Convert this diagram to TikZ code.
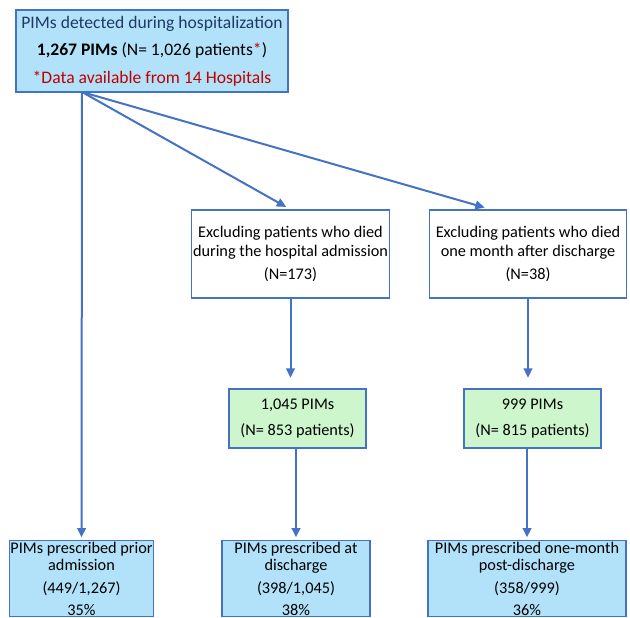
\documentclass[tikz,border=0pt]{standalone}
\usepackage{fontspec}
\setmainfont{Carlito}
\usepackage{tikz}
\usetikzlibrary{arrows.meta,calc}
\definecolor{boxblue}{RGB}{68,114,196}
\definecolor{skyfill}{RGB}{178,226,250}
\definecolor{mintfill}{RGB}{206,246,204}
\definecolor{titlenavy}{RGB}{31,56,100}
\definecolor{notered}{RGB}{192,0,0}
\tikzset{
  topbox/.style={draw=boxblue, line width=1pt, fill=skyfill, align=center,
    font=\fontsize{13.2}{20.5}\selectfont, inner sep=1pt,
    minimum width=204pt, minimum height=61.5pt},
  exclbox/.style={draw=boxblue, line width=0.9pt, fill=white, align=center,
    font=\fontsize{12.2}{14}\selectfont, inner sep=1pt,
    minimum width=147.5pt, minimum height=66pt},
  countbox/.style={draw=boxblue, line width=0.9pt, fill=mintfill, align=center,
    font=\fontsize{12.2}{19.5}\selectfont, inner sep=1pt,
    minimum width=102.75pt, minimum height=44.25pt},
  outbox/.style={draw=boxblue, line width=1pt, fill=skyfill, align=center,
    font=\fontsize{12.2}{13}\selectfont, anchor=north, inner xsep=0.5pt,
    inner ysep=1pt},
  flow/.style={draw=boxblue, line width=1.5pt,
    -{Triangle[length=7pt,width=6.5pt]}}
}

\begin{document}
\begin{tikzpicture}[x=0.75pt,y=-0.75pt]
  \useasboundingbox (0,0) rectangle (630,617);
  \clip (0,0) rectangle (630,617);

  % Hospitalization cohort.
  \node[topbox] (top) at (152,51)
    {\textcolor{titlenavy}{PIMs detected during hospitalization}\\
     \textbf{1,267 PIMs} (N= 1,026 patients\textcolor{notered}{*})\\
     \textcolor{notered}{*Data available from 14 Hospitals}};
  \coordinate (fork) at (82,92);

  % Exclusions.
  \node[exclbox] (excl1) at (290.5,254)
    {Excluding patients who died\\during the hospital admission\\[3.5pt](N=173)};
  \node[exclbox] (excl2) at (528,254)
    {Excluding patients who died\\one month after discharge\\[3.5pt](N=38)};
  \coordinate (excl2in) at ($(excl2.north west)+(62,0)$);

  % Remaining PIMs.
  \node[countbox] (count1) at (297.5,418.5) {1,045 PIMs\\(N= 853 patients)};
  \node[countbox] (count2) at (532.5,418.5) {999 PIMs\\(N= 815 patients)};

  % Outcomes, cut at the lower edge.
  \node[outbox, minimum width=104.25pt] (out1) at (81.5,540)
    {PIMs prescribed prior\\admission\\[4pt](449/1,267)\\[3.5pt]35\%};
  \node[outbox, minimum width=111pt] (out2) at (296,540)
    {PIMs prescribed at\\discharge\\[4pt](398/1,045)\\[3.5pt]38\%};
  \node[outbox, minimum width=148.5pt] (out3) at (527,540)
    {PIMs prescribed one-month\\post-discharge\\[4pt](358/999)\\[3.5pt]36\%};

  % Connectors.
  \draw[flow, shorten >=2pt] (fork) -- (out1.north);
  \draw[flow, shorten >=3.75pt] (fork) -- (excl1.north);
  \draw[flow, shorten >=5pt] (fork) -- (excl2in);
  \draw[flow, shorten >=8pt] (excl1.south) -- (excl1.south |- count1.north);
  \draw[flow, shorten >=8pt] (excl2.south) -- (excl2.south |- count2.north);
  \draw[flow, shorten >=2pt] (out2.north |- count1.south) -- (out2.north);
  \draw[flow, shorten >=2pt] (out3.north |- count2.south) -- (out3.north);
\end{tikzpicture}
\end{document}
